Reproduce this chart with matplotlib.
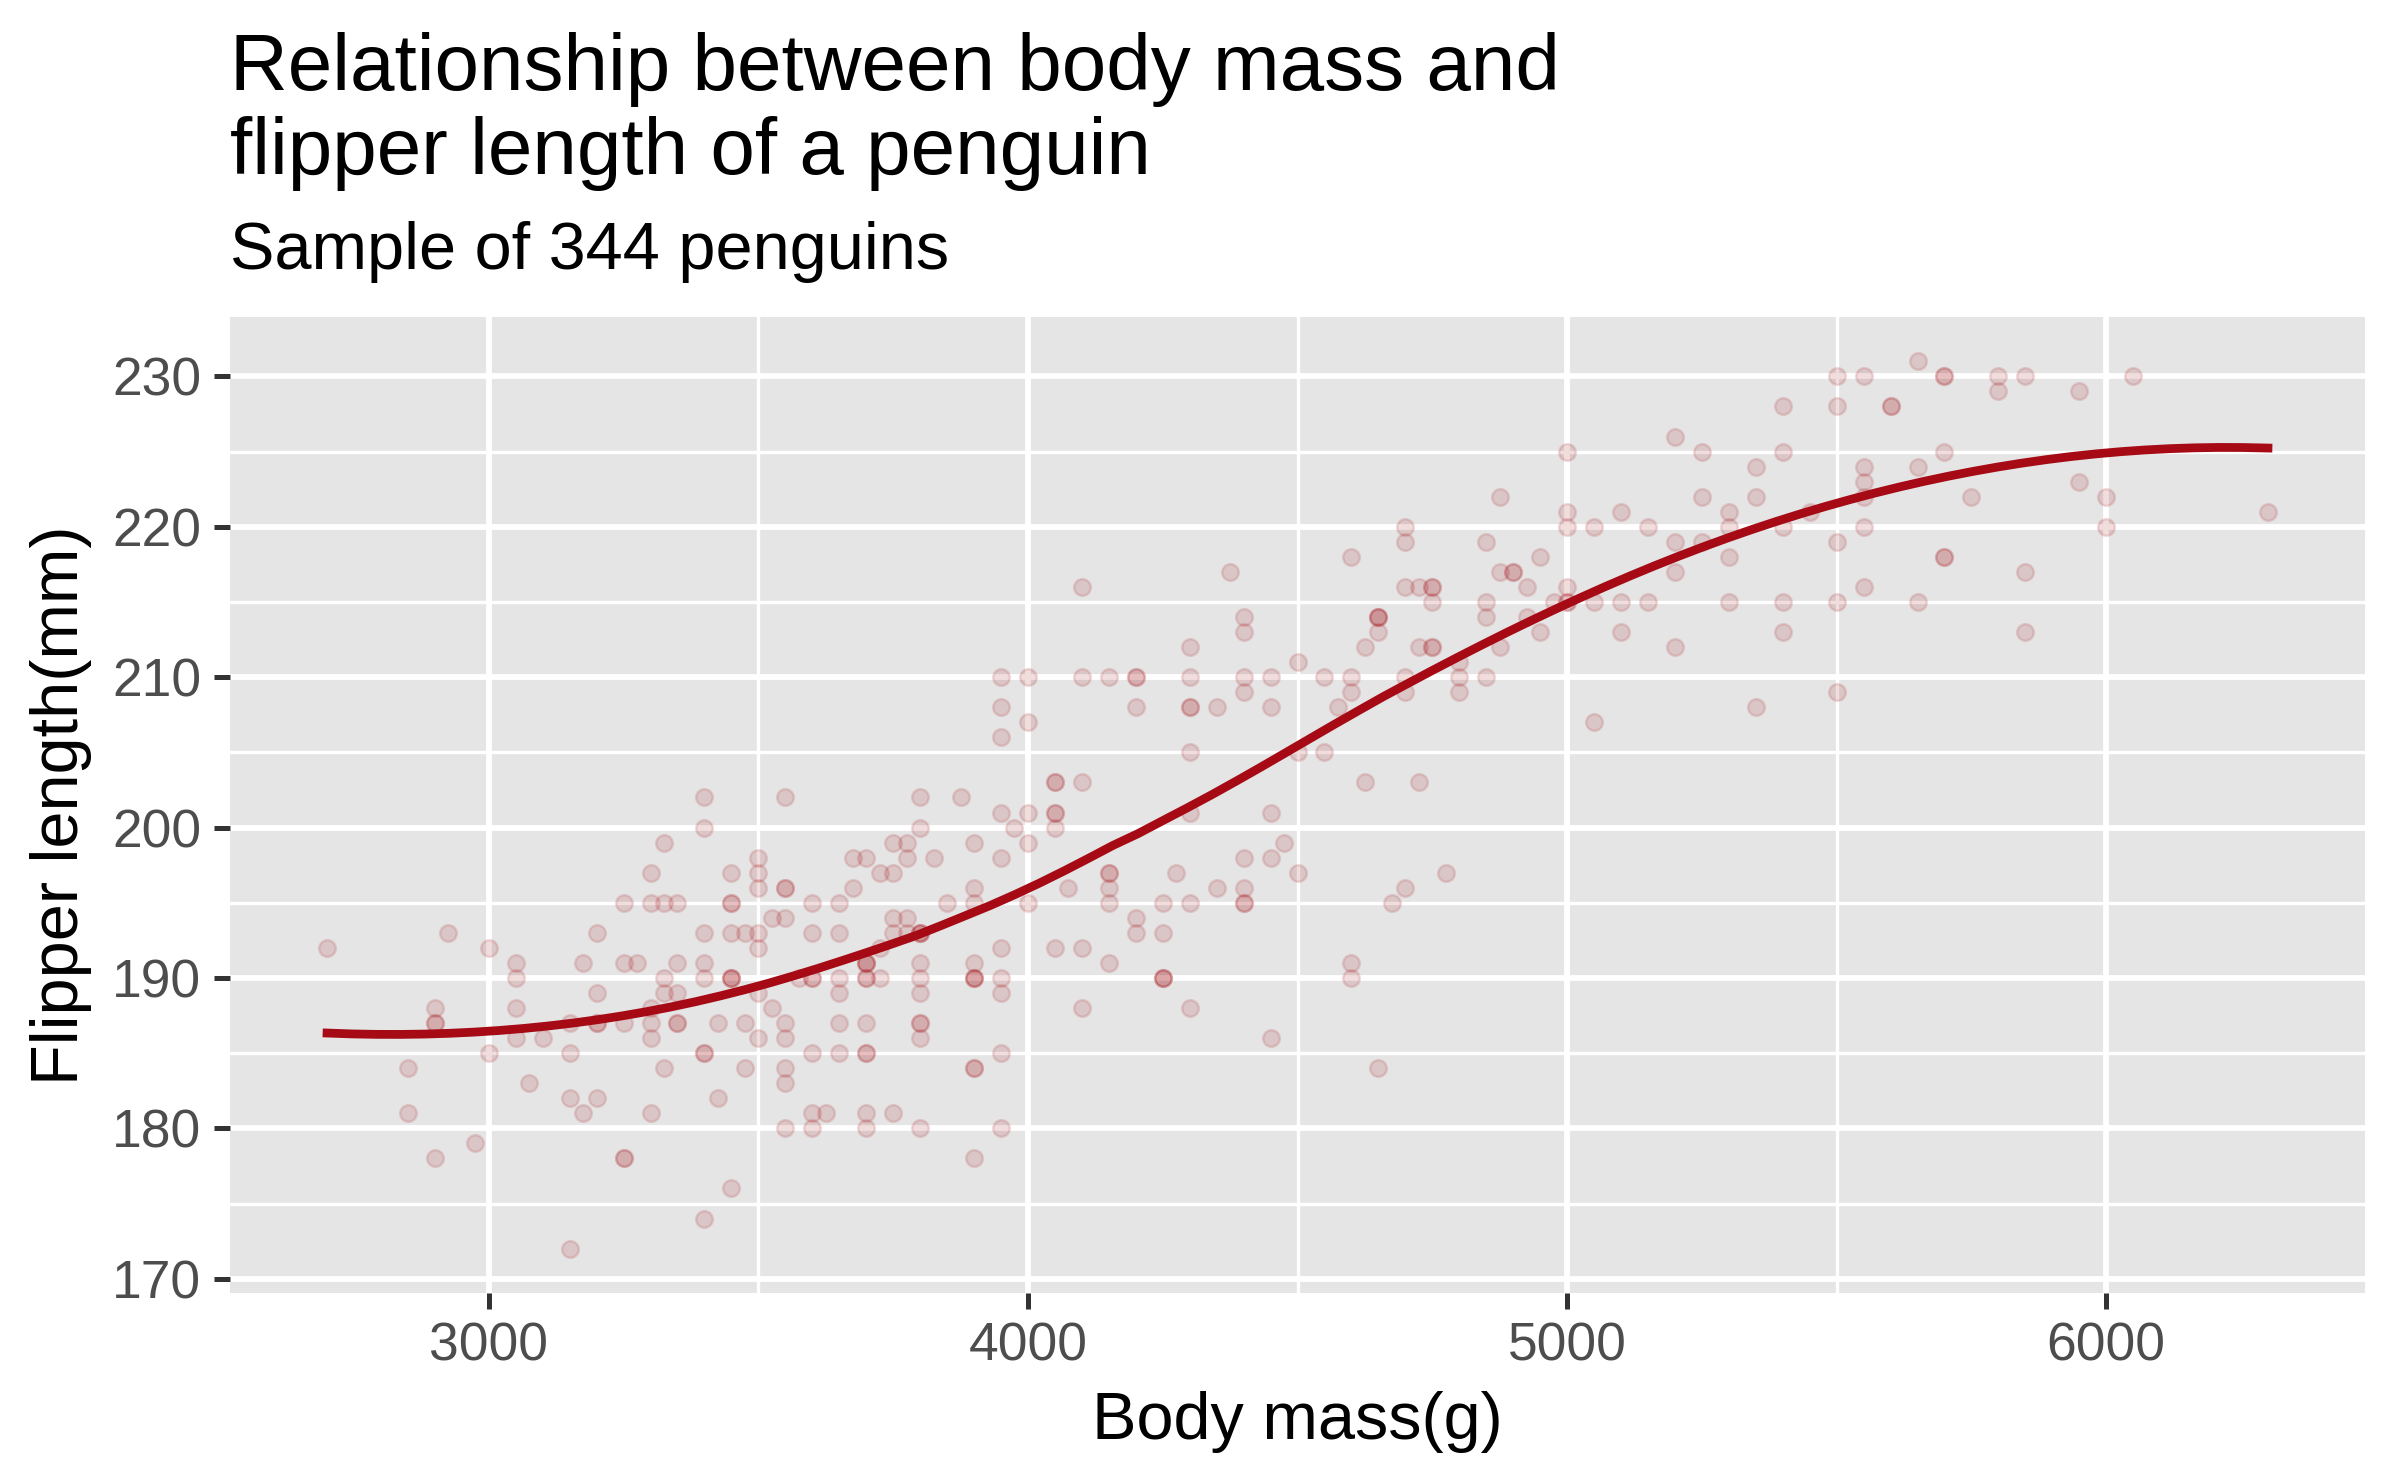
import numpy as np
import matplotlib
matplotlib.use("Agg")
import matplotlib.pyplot as plt
from matplotlib.ticker import MultipleLocator

# ---------------- data (Palmer penguins, non-missing) ----------------
adelie_flipper = [
    181,186,195,193,190,181,195,193,190,186,180,182,191,198,185,195,197,184,194,
    174,180,189,185,180,187,183,187,172,180,
    178,178,188,184,195,196,190,180,181,184,182,195,186,196,185,190,182,179,190,191,
    186,188,190,200,187,191,186,193,181,194,185,195,185,192,184,192,195,188,
    190,198,190,190,196,197,190,195,191,184,187,195,189,196,187,193,
    191,194,190,189,189,190,202,205,185,186,187,208,190,196,178,192,
    192,203,183,190,193,184,199,190,181,197,198,191,193,197,191,196,
    188,199,189,189,187,198,176,202,186,199,191,195,191,210,190,197,
    193,199,187,190,191,200,185,193,193,187,188,190,192,185,190,184,195,193,187,201]
adelie_mass = [
    3750,3800,3250,3450,3650,3625,4675,3475,4250,3300,3700,3200,3800,4400,3700,3450,4500,3325,4200,
    3400,3600,3800,3950,3800,3800,3550,3200,3150,3950,
    3250,3900,3300,3900,3325,4150,3950,3550,3300,4650,3150,3900,3100,4400,3000,4600,3425,2975,3450,4150,
    3500,4300,3450,4050,2900,3700,3550,3800,2850,3750,3150,4400,3600,4050,2850,3950,3350,4100,
    3050,4450,3600,3900,3550,4150,3700,4250,3700,3900,3550,4000,3200,4700,3800,4200,
    3350,3550,3800,3500,3950,3600,3550,4300,3400,4450,3300,4300,3700,4350,2900,4100,
    3725,4725,3075,4250,2925,3550,3750,3900,3175,4775,3825,4600,3200,4275,3900,4075,
    2900,3775,3350,3325,3150,3500,3450,3875,3050,4000,3275,4300,3050,4000,3325,3500,
    3500,4475,3425,3900,3175,3975,3400,4250,3400,3475,3050,3725,3000,3650,4250,3475,3450,3750,3700,4000]

gentoo_flipper = [
    211,230,210,218,215,210,211,219,209,215,214,216,214,213,210,217,210,221,209,222,
    218,215,213,215,215,215,216,215,210,220,222,209,207,230,
    220,220,213,219,208,208,208,225,210,216,222,217,210,225,213,215,210,220,210,225,
    217,220,208,220,208,224,208,221,214,231,219,230,214,229,220,223,216,221,221,217,
    216,230,209,220,215,223,
    212,221,212,224,212,228,218,218,212,230,218,228,212,224,214,226,216,222,203,225,
    219,228,215,228,216,215,210,219,208,209,216,229,213,230,217,230,217,222,214,
    215,222,212,213]
gentoo_mass = [
    4500,5700,4450,5700,5400,4550,4800,5200,4400,5150,4650,5550,4650,5850,4200,5850,4150,6300,4800,5350,
    5700,5000,4400,5050,5000,5100,4100,5650,4600,5550,5250,4700,5050,6050,
    5150,5400,4950,5250,4350,5350,3950,5700,4300,4750,5550,4900,4200,5400,5100,5300,4850,5300,4400,5000,
    4900,5050,4300,5000,4450,5550,4200,5300,4400,5650,4700,5700,4650,5800,4700,5550,4750,5000,5100,5200,
    4700,5800,4600,6000,4750,5950,
    4625,5450,4725,5350,4750,5600,4600,5300,4875,5550,4950,5400,4750,5650,4850,5200,4925,4875,4625,5250,
    4850,5600,4975,5500,4725,5500,4700,5500,4575,5500,5000,5950,4650,5500,4375,5850,4875,6000,4925,
    4850,5750,5200,5400]

chinstrap_flipper = [
    192,196,193,188,197,198,178,197,195,198,193,194,185,201,190,201,197,181,190,195,
    181,191,187,193,195,197,200,200,191,205,187,201,187,203,195,199,195,210,192,205,
    210,187,196,196,196,201,190,212,187,198,199,201,193,203,187,197,191,203,202,194,
    206,189,195,207,202,193,210,198]
chinstrap_mass = [
    3500,3900,3650,3525,3725,3950,3250,3750,4150,3700,3800,3775,3700,4050,3575,4050,3300,3700,3450,4400,
    3600,3400,2900,3800,3300,4150,3400,3800,3700,4550,3200,4300,3350,4100,3600,3900,3850,4800,2700,4500,
    3950,3650,3550,3500,3675,4450,3400,4300,3250,3675,3325,3950,3600,4050,3350,3450,3250,4050,3800,3525,
    3950,3650,3650,4000,3400,3775,4100,3775]

x_ticks = [3000, 4000, 5000, 6000]
y_ticks = [170, 180, 190, 200, 210, 220, 230]

title = "Relationship between body mass and\nflipper length of a penguin"
subtitle = "Sample of 344 penguins"
x_label = "Body mass(g)"
y_label = "Flipper length(mm)"

mass = np.array(adelie_mass + gentoo_mass + chinstrap_mass, dtype=float)
flipper = np.array(adelie_flipper + gentoo_flipper + chinstrap_flipper, dtype=float)


# ---------------- loess smoother (span 0.75, degree 2) ----------------
def loess(x, y, xs, span=0.75):
    n = len(x)
    q = int(np.floor(n * span))
    out = np.empty(len(xs))
    for i, x0 in enumerate(xs):
        d = np.abs(x - x0)
        h = np.sort(d)[q - 1]
        u = np.clip(d / h, 0, 1)
        w = (1 - u ** 3) ** 3
        X = np.column_stack([np.ones(n), x - x0, (x - x0) ** 2])
        W = np.sqrt(w)
        beta, *_ = np.linalg.lstsq(X * W[:, None], y * W, rcond=None)
        out[i] = beta[0]
    return out


xs = np.linspace(mass.min(), mass.max(), 80)
ys = loess(mass, flipper, xs)

# ---------------- figure ----------------
plt.rcParams['font.family'] = ['Liberation Sans', 'DejaVu Sans']
fig = plt.figure(figsize=(8, 1483 / 300), dpi=300)
ax = fig.add_axes([230 / 2400, 1 - 1293 / 1483, (2365 - 230) / 2400, (1293 - 317) / 1483])

ax.set_facecolor('#E5E5E5')
for s in ax.spines.values():
    s.set_visible(False)

xr = mass.max() - mass.min()
yr = flipper.max() - flipper.min()
ax.set_xlim(mass.min() - 0.05 * xr, mass.max() + 0.05 * xr)
ax.set_ylim(flipper.min() - 0.05 * yr, flipper.max() + 0.05 * yr)

ax.set_xticks(x_ticks)
ax.set_yticks(y_ticks)
ax.xaxis.set_minor_locator(MultipleLocator(500))
ax.yaxis.set_minor_locator(MultipleLocator(5))
ax.grid(which='major', color='white', linewidth=1.4)
ax.grid(which='minor', color='white', linewidth=0.8)
ax.set_axisbelow(True)
ax.tick_params(which='major', length=3.9, width=1.2, color='#333333',
               labelsize=12.8, labelcolor='#4D4D4D', pad=3)
ax.tick_params(which='minor', length=0)

ax.scatter(mass, flipper, s=16, facecolor='#A50F15', edgecolor='#A50F15',
           alpha=0.14, linewidths=0.6, zorder=2)
ax.plot(xs, ys, color='#A50A15', linewidth=2.1, zorder=3)

fig.text(230 / 2400, 1 - 174 / 1483, title, fontsize=19.2, ha='left', va='baseline',
         linespacing=1.15)
fig.text(230 / 2400, 1 - 269 / 1483, subtitle, fontsize=16, ha='left', va='baseline')
fig.text((230 + 2365) / 2 / 2400, 1 - 1439 / 1483, x_label, fontsize=16,
         ha='center', va='baseline')
fig.text(61 / 2400, 1 - 805 / 1483, y_label, fontsize=16, rotation=90,
         ha='center', va='center')

fig.savefig('out.png', dpi=300)
